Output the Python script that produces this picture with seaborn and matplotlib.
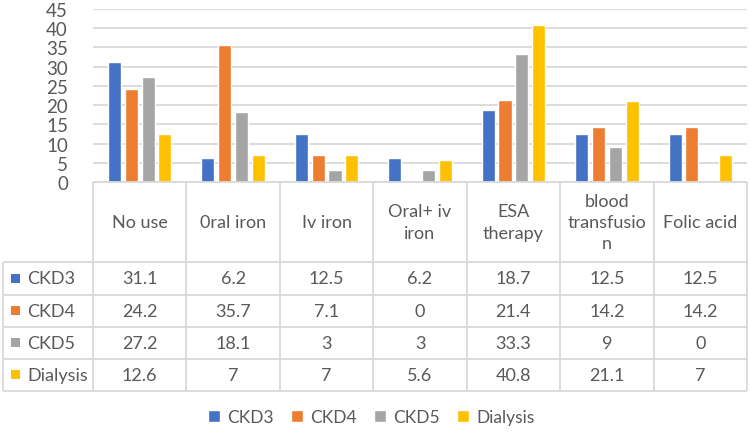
import pandas as pd
import matplotlib
matplotlib.use("Agg")
import matplotlib.pyplot as plt
import seaborn as sns

categories = ["No use", "0ral iron", "Iv iron", "Oral+ iv iron", "ESA therapy",
              "blood transfusion", "Folic acid"]
header_labels = ["No use", "0ral iron", "Iv iron", "Oral+ iv\niron", "ESA\ntherapy",
                 "blood\ntransfusio\nn", "Folic acid"]
stages = ["CKD3", "CKD4", "CKD5", "Dialysis"]
ckd3 = [31.1, 6.2, 12.5, 6.2, 18.7, 12.5, 12.5]
ckd4 = [24.2, 35.7, 7.1, 0, 21.4, 14.2, 14.2]
ckd5 = [27.2, 18.1, 3, 3, 33.3, 9, 0]
dialysis = [12.6, 7, 7, 5.6, 40.8, 21.1, 7]
yticks = [0, 5, 10, 15, 20, 25, 30, 35, 40, 45]

colors = ["#4472C4", "#ED7D31", "#A5A5A5", "#FFC000"]
text_color = "#595959"
line_color = "#D9D9D9"

series = {"CKD3": ckd3, "CKD4": ckd4, "CKD5": ckd5, "Dialysis": dialysis}
rows = []
for stage in stages:
    for cat, val in zip(categories, series[stage]):
        rows.append({"category": cat, "stage": stage, "value": val})
df = pd.DataFrame(rows)

sns.set_style("white")
plt.rcParams["font.family"] = ["Lato", "DejaVu Sans"]

W, H = 750, 435
fig = plt.figure(figsize=(7.5, 4.35), dpi=100)

# pixel layout
x0, x1 = 93, 747
y_zero, y_top = 183, 10
header_bottom = 263
row_edges = [263, 295.5, 327.7, 360, 391.7]
table_left = 3

ax = fig.add_axes([x0 / W, (H - y_zero) / H, (x1 - x0) / W, (y_zero - y_top) / H])
sns.barplot(data=df, x="category", y="value", hue="stage", order=categories,
            hue_order=stages, palette=colors, width=0.72, gap=0.22,
            saturation=1, ax=ax)
ax.set_xlim(-0.5, len(categories) - 0.5)
ax.set_ylim(0, 45)
ax.set_yticks(yticks)
ax.set_xticks([])
ax.set_xlabel("")
ax.set_ylabel("")
ax.grid(axis="y", color=line_color, linewidth=1.3)
ax.set_axisbelow(True)
for s in ax.spines.values():
    s.set_visible(False)
ax.tick_params(axis="y", length=0, pad=18, labelsize=13.5, labelcolor=text_color)

handles, labels = ax.get_legend_handles_labels()
ax.get_legend().remove()

# data table drawn in pixel coordinates
tb = fig.add_axes([0, 0, 1, 1])
tb.set_xlim(0, W)
tb.set_ylim(H, 0)
tb.axis("off")
tb.patch.set_alpha(0)

col_w = (x1 - x0) / len(categories)
tb.hlines(y_zero, x0, x1, color=line_color, lw=1.3)
tb.hlines(row_edges, table_left, x1, color=line_color, lw=1.3)
tb.vlines(table_left, row_edges[0], row_edges[-1], color=line_color, lw=1.3)
for k in range(len(categories) + 1):
    tb.vlines(x0 + k * col_w, y_zero, row_edges[-1], color=line_color, lw=1.3)

for i, lab in enumerate(header_labels):
    tb.text(x0 + (i + 0.5) * col_w, (y_zero + header_bottom) / 2, lab,
            ha="center", va="center", fontsize=13, color=text_color,
            linespacing=1.4)

for r, stage in enumerate(stages):
    yc = (row_edges[r] + row_edges[r + 1]) / 2
    tb.add_patch(plt.Rectangle((table_left + 8, yc - 4.5), 9, 9,
                               color=colors[r], lw=0))
    tb.text(table_left + 24, yc, stage, ha="left", va="center",
            fontsize=13, color=text_color)
    for i, v in enumerate(series[stage]):
        tb.text(x0 + (i + 0.5) * col_w, yc, f"{v:g}", ha="center", va="center",
                fontsize=13, color=text_color)

fig.legend(handles, labels, loc="center", bbox_to_anchor=(0.495, 1 - 418 / H),
           ncol=4, frameon=False, handlelength=0.7, handleheight=0.7,
           columnspacing=1.0, handletextpad=0.4, fontsize=12.5,
           labelcolor=text_color)

fig.savefig("out.png", dpi=100)
